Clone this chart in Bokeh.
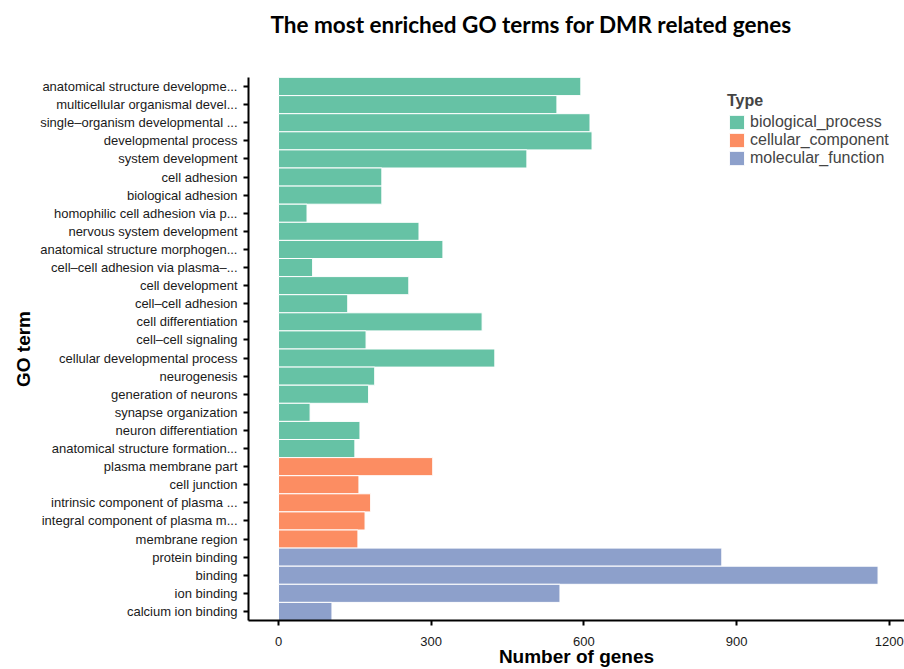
from bokeh.plotting import figure
from bokeh.models import ColumnDataSource, FactorRange, Range1d, FixedTicker, Title
from bokeh.embed import file_html
from bokeh.resources import INLINE

terms = [
    "anatomical structure developme...",
    "multicellular organismal devel...",
    "single\u2013organism developmental ...",
    "developmental process",
    "system development",
    "cell adhesion",
    "biological adhesion",
    "homophilic cell adhesion via p...",
    "nervous system development",
    "anatomical structure morphogen...",
    "cell\u2013cell adhesion via plasma\u2013...",
    "cell development",
    "cell\u2013cell adhesion",
    "cell differentiation",
    "cell\u2013cell signaling",
    "cellular developmental process",
    "neurogenesis",
    "generation of neurons",
    "synapse organization",
    "neuron differentiation",
    "anatomical structure formation...",
    "plasma membrane part",
    "cell junction",
    "intrinsic component of plasma ...",
    "integral component of plasma m...",
    "membrane region",
    "protein binding",
    "binding",
    "ion binding",
    "calcium ion binding",
]
genes = [594, 547, 612, 616, 488, 203, 203, 56, 276, 323,
         67, 256, 136, 400, 172, 425, 189, 177, 62, 160,
         150, 303, 158, 181, 170, 156, 871, 1178, 553, 105]
types = ["biological_process"] * 21 + ["cellular_component"] * 5 + ["molecular_function"] * 4
type_names = ["biological_process", "cellular_component", "molecular_function"]
type_colors = ["#66C2A5", "#FC8D62", "#8DA0CB"]
x_ticks = [0, 300, 600, 900, 1200]
title_text = "The most enriched GO terms for DMR related genes"

cmap = dict(zip(type_names, type_colors))
src = ColumnDataSource(dict(term=terms, genes=genes, type=types,
                            color=[cmap[t] for t in types]))

p = figure(width=904, height=669, output_backend="svg", toolbar_location=None,
           y_range=FactorRange(factors=list(reversed(terms)), range_padding=0),
           x_range=Range1d(-59, 1230),
           min_border_left=248, min_border_right=0, min_border_top=77, min_border_bottom=47)

p.hbar(y="term", right="genes", left=0, height=1.0, source=src, fill_color="color",
       line_color="white", line_width=1, legend_field="type")

p.xgrid.visible = False
p.ygrid.visible = False
p.outline_line_color = None

for ax in (p.xaxis[0], p.yaxis[0]):
    ax.axis_line_color = "black"
    ax.axis_line_width = 2
    ax.major_tick_line_color = "black"
    ax.major_tick_line_width = 2
    ax.major_tick_out = 5
    ax.major_tick_in = 0
    ax.minor_tick_line_color = None
    ax.major_label_text_font = "Liberation Sans"
    ax.major_label_text_font_size = "13px"
    ax.major_label_text_color = "#1a1a1a"
    ax.axis_label_text_font = "Liberation Sans"
    ax.axis_label_text_font_style = "bold"
    ax.axis_label_text_font_size = "19px"
    ax.axis_label_text_color = "black"

p.xaxis.ticker = FixedTicker(ticks=x_ticks)
p.xaxis.axis_label = "Number of genes"
p.xaxis.major_label_standoff = 11
p.xaxis.axis_label_standoff = -3
p.yaxis.axis_label = "GO term"
p.yaxis.major_label_standoff = 6
p.yaxis.axis_label_standoff = 3

# blank spacer panel between the frame and the title (white non-breaking space)
spacer = Title(text="\u00a0", text_font_size="10px", text_color="white", standoff=22)
p.add_layout(spacer, "above")

p.title.text = title_text
p.title.text_font = "Lato"
p.title.text_font_style = "bold"
p.title.text_font_size = "22.5px"
p.title.text_color = "black"
p.title.align = "left"
p.title.offset = 22
p.title.standoff = 10

lg = p.legend[0]
lg.location = (479, 453)
lg.title = "Type"
lg.title_text_font = "Liberation Sans"
lg.title_text_font_style = "bold"
lg.title_text_font_size = "16px"
lg.title_standoff = 3
lg.label_text_font = "Liberation Sans"
lg.label_text_font_size = "16px"
lg.glyph_width = 19
lg.glyph_height = 18
lg.label_height = 18
lg.label_standoff = 4
lg.spacing = 0
lg.padding = 0
lg.margin = 0
lg.border_line_color = None
lg.background_fill_alpha = 0

open("out.html", "w").write(file_html(p, INLINE))
